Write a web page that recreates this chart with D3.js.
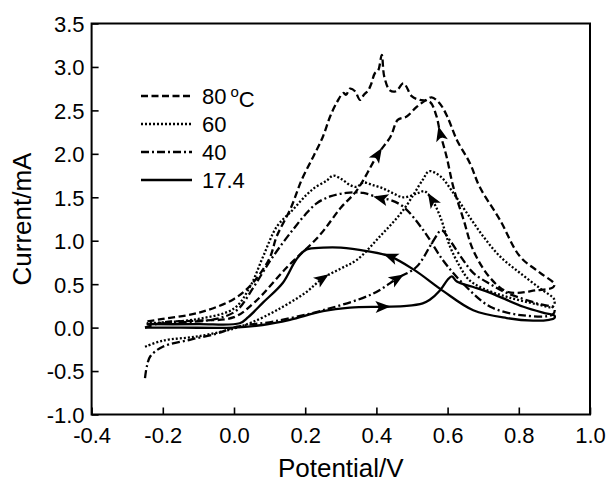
<!DOCTYPE html>
<html>
<head>
<meta charset="utf-8">
<script src="https://cdn.jsdelivr.net/npm/d3@7"></script>
<style>
  body { margin: 0; background: #fff; }
  #chart { width: 607px; height: 487px; }
  text { font-family: "Liberation Sans", Arial, sans-serif; fill: #000; }
</style>
</head>
<body>
<div id="chart"></div>
<script>
// Temperatures (legend labels)
const temps = ["80", "60", "40", "17.4"];

// CV curves [potential V, current mA], forward scan then reverse scan
const cv80 = [
  [-0.25, 0.00], [-0.2, 0.06], [-0.1, 0.08], [0.0, 0.12], [0.06, 0.3], [0.15, 0.7], [0.24, 1.06],
  [0.30, 1.38], [0.345, 1.58], [0.405, 2.0], [0.44, 2.2], [0.46, 2.39], [0.485, 2.43], [0.513, 2.54],
  [0.54, 2.62], [0.555, 2.65], [0.578, 2.58], [0.60, 2.42], [0.626, 2.16], [0.663, 1.89], [0.69, 1.62],
  [0.747, 1.24], [0.803, 0.82], [0.86, 0.63], [0.90, 0.5],
  [0.895, 0.46], [0.85, 0.43], [0.77, 0.41], [0.72, 0.57], [0.672, 0.89], [0.645, 1.24], [0.616, 1.62],
  [0.597, 1.97], [0.579, 2.24], [0.569, 2.43], [0.55, 2.6], [0.522, 2.62], [0.50, 2.66], [0.476, 2.81],
  [0.455, 2.72], [0.438, 2.73], [0.422, 2.89], [0.415, 3.14], [0.405, 2.96], [0.396, 2.93], [0.385, 2.8],
  [0.377, 2.73], [0.365, 2.68], [0.354, 2.62], [0.34, 2.72], [0.326, 2.75], [0.315, 2.68], [0.307, 2.70],
  [0.29, 2.6], [0.27, 2.43], [0.25, 2.2], [0.223, 1.97], [0.19, 1.7], [0.16, 1.38], [0.12, 1.05],
  [0.1, 0.8], [0.054, 0.52], [0.0, 0.33], [-0.1, 0.17], [-0.2, 0.1], [-0.245, 0.07]
];
const cv60 = [
  [-0.25, -0.22], [-0.2, -0.15], [-0.1, -0.1], [0.0, -0.01], [0.05, 0.06], [0.12, 0.2], [0.2, 0.4],
  [0.25, 0.57], [0.3, 0.68], [0.345, 0.78], [0.41, 1.05], [0.475, 1.35], [0.53, 1.7], [0.548, 1.8],
  [0.58, 1.74], [0.616, 1.55], [0.654, 1.32], [0.7, 1.05], [0.747, 0.82], [0.803, 0.63], [0.86, 0.45],
  [0.9, 0.32],
  [0.895, 0.24], [0.85, 0.27], [0.77, 0.35], [0.7, 0.45], [0.66, 0.55], [0.635, 0.7], [0.607, 0.93],
  [0.579, 1.28], [0.555, 1.48], [0.535, 1.57], [0.518, 1.55], [0.476, 1.5], [0.445, 1.55], [0.42, 1.6],
  [0.39, 1.64], [0.363, 1.67], [0.345, 1.62], [0.326, 1.64], [0.305, 1.7], [0.279, 1.75], [0.26, 1.69],
  [0.23, 1.62], [0.204, 1.53], [0.166, 1.36], [0.12, 1.16], [0.082, 0.82], [0.045, 0.47], [0.0, 0.22],
  [-0.1, 0.1], [-0.2, 0.06], [-0.245, 0.05]
];
const cv40 = [
  [-0.25, -0.58], [-0.245, -0.45], [-0.235, -0.33], [-0.2, -0.22], [-0.124, -0.14], [-0.05, -0.07],
  [0.008, 0.01], [0.11, 0.07], [0.25, 0.2], [0.39, 0.39], [0.46, 0.57], [0.513, 0.7], [0.56, 1.0],
  [0.583, 1.12], [0.607, 1.0], [0.64, 0.8], [0.672, 0.63], [0.72, 0.5], [0.766, 0.4], [0.85, 0.28],
  [0.9, 0.22],
  [0.895, 0.15], [0.813, 0.14], [0.72, 0.24], [0.645, 0.5], [0.588, 0.77], [0.532, 1.12], [0.476, 1.39],
  [0.438, 1.47], [0.41, 1.49], [0.363, 1.55], [0.316, 1.55], [0.27, 1.51], [0.232, 1.43], [0.2, 1.3],
  [0.17, 1.15], [0.138, 0.98], [0.1, 0.76], [0.054, 0.46], [0.008, 0.2], [-0.05, 0.1], [-0.15, 0.06],
  [-0.245, 0.04]
];
const cv17 = [
  [-0.25, 0.0], [-0.15, 0.0], [0.0, 0.0], [0.08, 0.03], [0.157, 0.09], [0.25, 0.19], [0.326, 0.23],
  [0.42, 0.24], [0.485, 0.25], [0.53, 0.28], [0.55, 0.32], [0.579, 0.43], [0.6, 0.55], [0.612, 0.59],
  [0.626, 0.53], [0.67, 0.47], [0.72, 0.4], [0.813, 0.24], [0.87, 0.17], [0.9, 0.14],
  [0.9, 0.11], [0.885, 0.09], [0.84, 0.08], [0.766, 0.11], [0.672, 0.2], [0.588, 0.42], [0.504, 0.67],
  [0.438, 0.82], [0.373, 0.88], [0.3, 0.92], [0.25, 0.92], [0.204, 0.9], [0.176, 0.79], [0.138, 0.52],
  [0.082, 0.29], [0.04, 0.12], [0.016, 0.05], [-0.1, 0.04], [-0.245, 0.04]
];

// Arrow positions on the curves [series index, potential, current]
const arrows = [
  [0, 0.405, 2.0], [0, 0.579, 2.24],
  [1, 0.25, 0.57], [1, 0.555, 1.48],
  [2, 0.46, 0.57], [2, 0.41, 1.49],
  [3, 0.42, 0.24], [3, 0.438, 0.82]
];

const xTicks = [-0.4, -0.2, 0.0, 0.2, 0.4, 0.6, 0.8, 1.0];
const yTicks = [-1.0, -0.5, 0.0, 0.5, 1.0, 1.5, 2.0, 2.5, 3.0, 3.5];

const series = [cv80, cv60, cv40, cv17];
const dashes = ["7,3.5", "2,2", "8,3,2,3", null];

const width = 607, height = 487;
const margin = { top: 23.5, right: 17, bottom: 72.5, left: 91.6 };
const chartWidth = width - margin.left - margin.right;
const chartHeight = height - margin.top - margin.bottom;
const font = '"Liberation Sans", Arial, sans-serif';

const svg = d3.select("#chart").append("svg")
  .attr("width", width)
  .attr("height", height);

const g = svg.append("g").attr("transform", `translate(${margin.left},${margin.top})`);

const xScale = d3.scaleLinear().domain([-0.4, 1.0]).range([0, chartWidth]);
const yScale = d3.scaleLinear().domain([-1.0, 3.5]).range([chartHeight, 0]);

// Axes with inward ticks, minor ticks in between
const xMinor = d3.range(-0.3, 1.0, 0.2);
const yMinor = d3.range(-0.75, 3.5, 0.5);

const xAxis = g.append("g").attr("transform", `translate(0,${chartHeight})`);
xAxis.call(d3.axisBottom(xScale).tickValues(xMinor).tickSize(-3.5).tickFormat(""));
xAxis.call(d3.axisBottom(xScale).tickValues(xTicks).tickSize(-7).tickFormat(d3.format(".1f")));

const yAxis = g.append("g");
yAxis.call(d3.axisLeft(yScale).tickValues(yMinor).tickSize(-3.5).tickFormat(""));
yAxis.call(d3.axisLeft(yScale).tickValues(yTicks).tickSize(-7).tickFormat(d3.format(".1f")));

g.selectAll(".domain").remove();
g.selectAll(".tick line").attr("stroke", "#000").attr("stroke-width", 1.6);
xAxis.selectAll(".tick text")
  .attr("y", 13)
  .attr("dy", "0.71em")
  .style("font-size", "22px")
  .style("font-family", font);
yAxis.selectAll(".tick text")
  .attr("x", -7)
  .attr("dy", "0.36em")
  .style("font-size", "22px")
  .style("font-family", font);
// d3 sets minus sign as U+2212; keep hyphen like the original
g.selectAll(".tick text").text(function () { return d3.select(this).text().replace("\u2212", "-"); });

// Frame
g.append("rect")
  .attr("width", chartWidth)
  .attr("height", chartHeight)
  .attr("fill", "none")
  .attr("stroke", "#000")
  .attr("stroke-width", 2);

// Curves
const line = d3.line()
  .x(d => xScale(d[0]))
  .y(d => yScale(d[1]))
  .curve(d3.curveCatmullRom.alpha(0.5));

g.selectAll("path.cv")
  .data(series)
  .enter().append("path")
  .attr("class", "cv")
  .attr("d", line)
  .attr("fill", "none")
  .attr("stroke", "#000")
  .attr("stroke-width", 2.3)
  .attr("stroke-dasharray", (d, i) => dashes[i]);

// Arrow heads pointing along scan direction
arrows.forEach(([s, v, c]) => {
  const pts = series[s];
  let idx = d3.minIndex(pts, p => (p[0] - v) ** 2 + (p[1] - c) ** 2);
  const a = pts[Math.max(idx - 1, 0)], b = pts[Math.min(idx + 1, pts.length - 1)];
  const ang = Math.atan2(yScale(b[1]) - yScale(a[1]), xScale(b[0]) - xScale(a[0])) * 180 / Math.PI;
  g.append("path")
    .attr("d", "M7,0 L-8,-6 L-4.5,0 L-8,6 Z")
    .attr("fill", "#000")
    .attr("transform", `translate(${xScale(pts[idx][0])},${yScale(pts[idx][1])}) rotate(${ang})`);
});

// Legend
const legend = svg.append("g").attr("transform", "translate(141,96)");
const items = legend.selectAll("g.item")
  .data(temps)
  .enter().append("g")
  .attr("class", "item")
  .attr("transform", (d, i) => `translate(0,${i * 28})`);

items.append("line")
  .attr("x1", 0).attr("x2", 51)
  .attr("stroke", "#000")
  .attr("stroke-width", 2.3)
  .attr("stroke-dasharray", (d, i) => dashes[i]);

const labels = items.append("text")
  .attr("x", 61)
  .attr("dy", "0.36em")
  .style("font-size", "22px")
  .text(d => d);

labels.filter((d, i) => i === 0).each(function () {
  const t = d3.select(this);
  t.append("tspan").attr("dx", 4).attr("dy", "-0.45em").style("font-size", "15px").text("o");
  t.append("tspan").attr("dy", "0.45em").text("C");
});

// Axis titles
svg.append("text")
  .attr("x", margin.left + chartWidth / 2)
  .attr("y", 477)
  .attr("text-anchor", "middle")
  .style("font-size", "26px")
  .text("Potential/V");

svg.append("text")
  .attr("transform", `translate(31,${margin.top + chartHeight / 2}) rotate(-90)`)
  .attr("text-anchor", "middle")
  .style("font-size", "26px")
  .text("Current/mA");
</script>
</body>
</html>
